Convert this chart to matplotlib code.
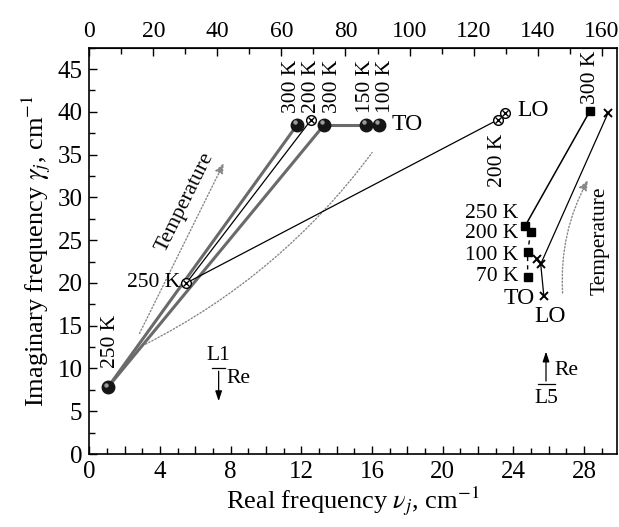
import matplotlib
matplotlib.use("Agg")
import matplotlib.pyplot as plt
from matplotlib.ticker import MultipleLocator, FuncFormatter
from matplotlib.patches import FancyArrowPatch
from matplotlib.transforms import offset_copy

plt.rcParams['font.family'] = ['Liberation Serif', 'DejaVu Serif']
plt.rcParams['mathtext.fontset'] = 'stix'

# L1 mode (spheres: TO, crossed circles: LO)
sphere_x = [1.05, 11.77, 13.3, 15.66, 16.41]
sphere_y = [7.8, 38.5, 38.5, 38.5, 38.5]
otimes_x = [5.5, 12.55, 23.11, 23.53]
otimes_y = [20.0, 39.06, 39.06, 39.9]
top_labels = ["300 K", "200 K", "300 K", "150 K", "100 K"]
top_label_x = [11.45, 12.6, 13.77, 15.66, 16.79]

# L5 mode (squares: TO, crosses: LO)
square_x = [28.35, 24.68, 24.98, 24.81, 24.81]
square_y = [40.15, 26.7, 25.9, 23.6, 20.7]
square_labels = ["300 K", "250 K", "200 K", "100 K", "70 K"]
cross_x = [29.37, 25.32, 25.55, 25.73]
cross_y = [39.9, 22.8, 22.2, 18.44]

# dotted "Temperature" guides
guide_left = [(2.77, 13.8), (7.68, 34.3)]
guide_curve = [(3.05, 12.7), (16.1, 35.5)]
guide_right = [(26.8, 18.5), (28.3, 32.3)]

fig = plt.figure(figsize=(6.19, 5.27), dpi=100)
ax = fig.add_axes([0.1443, 0.1385, 0.8525, 0.771])

gray = '#6a6a6a'
# thick gray lines (TO, L1)
ax.plot([sphere_x[0], sphere_x[1]], [sphere_y[0], sphere_y[1]], color=gray, lw=2.2, zorder=2)
ax.plot([sphere_x[0], sphere_x[2]], [sphere_y[0], sphere_y[2]], color=gray, lw=2.2, zorder=2)
ax.plot([sphere_x[2], sphere_x[3]], [sphere_y[2], sphere_y[3]], color=gray, lw=2.2, zorder=2)
# thin black lines (LO, L1)
ax.plot([otimes_x[0], otimes_x[1]], [otimes_y[0], otimes_y[1]], color='k', lw=0.9, zorder=2)
ax.plot([otimes_x[0], otimes_x[2]], [otimes_y[0], otimes_y[2]], color='k', lw=0.9, zorder=2)
# L5 lines
ax.plot(square_x[:2], square_y[:2], color='k', lw=1.1, zorder=2)
ax.plot(square_x[1:], square_y[1:], color='k', lw=1.0, ls=(0, (3, 3)), zorder=2)
ax.plot([cross_x[0], cross_x[2]], [cross_y[0], cross_y[2]], color='k', lw=0.9, zorder=2)
ax.plot(cross_x[2:], cross_y[2:], color='k', lw=0.9, zorder=2)

# markers
ax.plot(sphere_x, sphere_y, 'o', ms=9, color='#151515', zorder=4)
hl = offset_copy(ax.transData, fig=fig, x=-1.6, y=1.6, units='points')
ax.plot(sphere_x, sphere_y, 'o', ms=3.2, color='#9a9a9a', mec='none', transform=hl, zorder=5)
ax.plot(otimes_x, otimes_y, 'o', ms=7, mfc='white', mec='k', mew=1.0, zorder=4)
ax.plot(otimes_x, otimes_y, 'x', ms=4.8, color='k', mew=1.0, zorder=5)
ax.plot(square_x, square_y, 's', ms=5.5, color='k', zorder=4)
ax.plot(cross_x, cross_y, 'x', ms=5.5, color='k', mew=1.4, zorder=4)

fs = 15.5
fmode = 17
# L1 labels
ax.text(sphere_x[0] + 0.15, sphere_y[0] + 2.2, "250 K", rotation=90,
        ha='center', va='bottom', fontsize=fs)
for x, lab in zip(top_label_x, top_labels):
    ax.text(x, 39.9, lab, rotation=90, ha='center', va='bottom', fontsize=fs)
ax.text(otimes_x[0] - 0.35, otimes_y[0], "250 K", ha='right', va='center', fontsize=fs)
ax.text(17.1, 38.5, "TO", ha='left', va='center', fontsize=fmode)
ax.text(24.25, 40.1, "LO", ha='left', va='center', fontsize=fmode)
ax.text(otimes_x[2], 37.4, "200 K", rotation=90, ha='center', va='top', fontsize=fs)

# L5 labels
ax.text(square_x[0], 40.9, square_labels[0], rotation=90, ha='center', va='bottom', fontsize=fs)
for yy, lab in zip([28.1, 25.8, 23.2, 20.7], square_labels[1:]):
    ax.text(24.3, yy, lab, ha='right', va='center', fontsize=fs)
ax.text(25.2, 18.2, "TO", ha='right', va='center', fontsize=fmode)
ax.text(26.1, 16.1, "LO", ha='center', va='center', fontsize=fmode)

# temperature guides
ax.add_patch(FancyArrowPatch(guide_left[0], guide_left[1], arrowstyle='-|>,head_length=6,head_width=2.5',
                             color='#888888', lw=1.0, ls=(0, (1, 1.5)), zorder=1))
ax.add_patch(FancyArrowPatch(guide_curve[0], guide_curve[1], arrowstyle='-',
                             connectionstyle='arc3,rad=0.12',
                             color='#888888', lw=1.0, ls=(0, (1, 1.5)), zorder=1))
ax.add_patch(FancyArrowPatch(guide_right[0], guide_right[1], arrowstyle='-|>,head_length=6,head_width=2.5',
                             connectionstyle='arc3,rad=-0.15',
                             color='#888888', lw=1.0, ls=(0, (1, 1.5)), zorder=1))
ax.text(5.45, 29.5, "Temperature", rotation=63.7, ha='center', va='center',
        fontsize=fs, rotation_mode='anchor')
ax.text(28.9, 24.9, "Temperature", rotation=90, ha='center', va='center', fontsize=fs)

# L1 / L5 polarisation marks
ax.annotate("", xy=(7.32, 5.85), xytext=(7.32, 10.0),
            arrowprops=dict(arrowstyle='-|>,head_length=0.6,head_width=0.2', color='k', lw=0.9))
ax.plot([6.95, 7.7], [10.0, 10.0], color='k', lw=0.9)
ax.text(7.32, 10.4, "L1", ha='center', va='bottom', fontsize=fs)
ax.text(7.75, 8.8, "Re", ha='left', va='center', fontsize=fs)
ax.annotate("", xy=(25.85, 12.3), xytext=(25.85, 8.2),
            arrowprops=dict(arrowstyle='-|>,head_length=0.6,head_width=0.2', color='k', lw=0.9))
ax.plot([25.4, 26.35], [8.2, 8.2], color='k', lw=0.9)
ax.text(25.85, 7.6, "L5", ha='center', va='top', fontsize=fs)
ax.text(26.35, 9.75, "Re", ha='left', va='center', fontsize=fs)

# axes
ax.set_xlim(0, 29.87)
ax.set_ylim(0, 47.5)
ax.xaxis.set_major_locator(MultipleLocator(2))
ax.xaxis.set_minor_locator(MultipleLocator(1))
ax.xaxis.set_major_formatter(FuncFormatter(lambda v, p: f"{v:.0f}" if round(v) % 4 == 0 else ""))
ax.yaxis.set_major_locator(MultipleLocator(5))
ax.yaxis.set_minor_locator(MultipleLocator(2.5))
ax.tick_params(which='both', direction='in', labelsize=18, width=1.0)
ax.tick_params(which='major', length=6)
ax.tick_params(which='minor', length=4)
ax.tick_params(axis='x', pad=5)
ax.tick_params(axis='y', pad=5)
for s in ax.spines.values():
    s.set_linewidth(1.2)

k = 160 / 29.0
top = ax.secondary_xaxis('top', functions=(lambda v: v * k, lambda v: v / k))
top.xaxis.set_major_locator(MultipleLocator(20))
top.xaxis.set_minor_locator(MultipleLocator(10))
top.tick_params(which='both', direction='in', labelsize=17, width=1.0, pad=4)
top.tick_params(which='major', length=6)
top.tick_params(which='minor', length=4)

ax.set_xlabel(r"Real frequency $\nu_j$, cm$^{-1}$", fontsize=19, labelpad=1)
ax.set_ylabel(r"Imaginary frequency $\gamma_j$, cm$^{-1}$", fontsize=19, labelpad=3)

fig.savefig("out.png", dpi=100)
